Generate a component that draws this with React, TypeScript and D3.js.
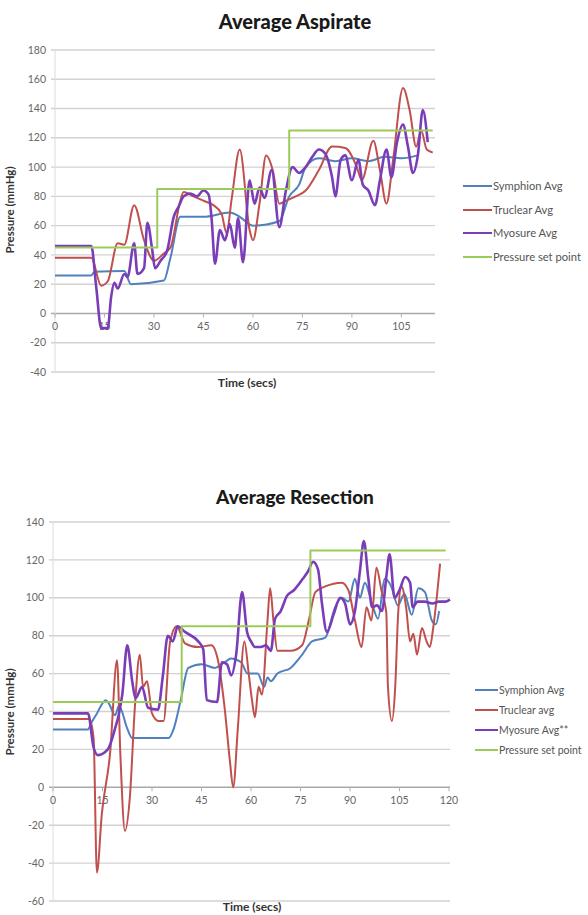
import React from "react";
import * as d3 from "d3";

type P = [number, number];

// ---------- Chart 1: Average Aspirate ----------
const aspTitle = "Average Aspirate";
const aspYTicks = [-40, -20, 0, 20, 40, 60, 80, 100, 120, 140, 160, 180];
const aspXTicks = [0, 15, 30, 45, 60, 75, 90, 105];
const aspLegend = ["Symphion Avg", "Truclear Avg", "Myosure Avg", "Pressure set point"];

const aspSymphion: P[] = [
  [0, 26], [11, 26], [12, 28.5], [21, 29], [23, 20], [33, 22.5], [35, 38], [38, 66], [45, 66],
  [53, 69], [56, 66], [60, 60], [68, 63], [71, 80], [74, 88], [76, 100], [80, 106], [85, 104],
  [90, 106], [95, 104], [100, 107], [105, 106], [110, 108],
];
const aspTruclear: P[] = [
  [0, 38], [11, 38], [14, 19], [16, 22], [19, 48], [21, 47], [24, 74], [27, 50], [30, 36], [33, 41],
  [35, 45], [38, 77], [39, 83], [42, 80], [45, 77], [48, 74], [50.5, 68], [52, 55], [53.6, 79],
  [56, 112], [59, 57], [60, 50], [62, 75], [64, 108], [66, 98], [68, 75], [70, 77], [73, 80],
  [76, 84], [80, 98], [84, 114], [88, 113], [91.5, 100], [93, 91], [96.5, 118], [98.5, 98],
  [100.5, 75], [102.5, 105], [105.5, 154], [107.5, 139], [109.5, 114], [111, 125], [112.7, 112],
  [114.5, 110],
];
const aspMyosure: P[] = [
  [0, 46], [11, 46], [12.5, 18], [14, -10], [16, -10], [17, 11], [18, 21], [19, 17], [21, 27],
  [22, 25], [24, 48], [25, 27], [27, 31], [28, 62], [29.5, 43], [30.3, 31], [32, 36], [34, 43],
  [36, 66], [37.5, 73], [39, 80], [41, 82], [43, 80], [45, 84], [46.6, 81], [47.5, 64], [48.5, 34],
  [50, 57], [51.5, 50], [53, 61], [54.5, 45], [55.5, 65], [57, 35], [59, 91], [60.5, 75], [62, 86],
  [63.5, 79], [65.7, 98], [68, 59], [70, 84], [72, 100], [74, 96], [76, 100], [78, 107], [80, 112],
  [82, 109], [84, 93], [85, 80], [86.6, 105], [88, 108], [90, 91], [92, 105], [93.3, 88], [95, 84],
  [97, 74], [98.5, 91], [100.5, 112], [102, 93], [103.6, 116], [105.5, 129], [107, 114],
  [108.5, 96], [110, 108], [111.5, 139], [113, 117],
];
const aspSetPoint: P[] = [
  [0, 45], [31, 45], [31, 85], [71, 85], [71, 125], [114.5, 125],
];

// ---------- Chart 2: Average Resection ----------
const resTitle = "Average Resection";
const resYTicks = [-60, -40, -20, 0, 20, 40, 60, 80, 100, 120, 140];
const resXTicks = [0, 15, 30, 45, 60, 75, 90, 105, 120];
const resLegend = ["Symphion Avg", "Truclear avg", "Myosure Avg**", "Pressure set point"];

const resSymphion: P[] = [
  [0, 30.5], [10.6, 30.5], [11.6, 34], [13, 38], [16, 46], [17, 44], [18.8, 38], [20, 43],
  [22.5, 31], [24, 26], [35, 26], [36.6, 31], [38.7, 46], [41, 63], [45, 65], [49, 63], [52, 66],
  [54, 68], [57, 66], [59, 60], [62, 60], [64, 53], [65, 58], [66, 56], [68, 60], [72, 63],
  [75.5, 70], [78.5, 77], [82.5, 79], [85.5, 95], [87.5, 100], [89.5, 98], [91.5, 110], [93, 100],
  [94.5, 108], [96.5, 98], [98.5, 89], [100.5, 110], [102.5, 106], [104.5, 96], [106.5, 102],
  [108.7, 91], [110.7, 105], [112.7, 103], [114.8, 88], [116, 86], [117, 93],
];
const resTruclear: P[] = [
  [0, 36], [11, 36], [12.3, 26], [13.3, -45], [14.8, -14], [17.3, 18], [19.4, 67], [20.4, 18],
  [21.8, -23], [23.3, -5], [24.8, 42], [26.3, 70], [27.3, 53], [28.5, 56], [30, 39], [32, 35],
  [33.5, 35], [35.5, 77], [37.5, 85], [40, 76], [44, 74], [48, 75], [50, 67], [52, 42], [53.6, 14],
  [54.6, 0], [56, 31], [58, 77], [59.3, 60], [60.3, 46], [61.2, 37], [62.3, 53], [63.3, 49],
  [65, 88], [65.8, 105], [66.8, 88], [68, 72], [72, 72], [75.5, 75], [77.5, 88], [79.5, 103],
  [82.5, 106], [87.5, 108], [89.5, 104], [91.5, 88], [93.5, 74], [95, 95], [96.5, 88], [98, 116],
  [99.5, 104], [101, 92], [101.5, 53], [102.7, 35], [103.7, 53], [104.6, 92], [105.6, 106],
  [107, 95], [108.2, 77], [109.2, 81], [110.3, 70], [111.8, 84], [113.2, 77], [114.2, 74],
  [115.2, 84], [116.4, 102], [117.3, 118],
];
const resMyosure: P[] = [
  [0, 39], [10.6, 39], [12.3, 21], [13.6, 17], [16.6, 20], [18.8, 31], [20, 39], [21, 49],
  [22.5, 75], [24, 56], [25, 47], [27, 53], [28.8, 42], [31.8, 41], [33.3, 59], [34.8, 80],
  [36.3, 77], [37.8, 85], [40, 82], [44, 77], [45.5, 73], [46.6, 46], [49.7, 45], [51.2, 66],
  [52.7, 65], [54, 59], [55.5, 70], [57.3, 103], [58.8, 82], [60, 77], [61.2, 74], [63, 74],
  [64.5, 75], [66, 72], [67.3, 89], [69, 93], [70.9, 101], [73, 104], [75.7, 110], [77.3, 114],
  [78.8, 119], [80.3, 115], [81.5, 97], [83, 82], [85, 91], [87, 100], [88.5, 97], [90, 86],
  [91.5, 93], [93, 114], [94.2, 130], [95.5, 111], [96.7, 95], [98.2, 96], [99.7, 93], [101, 111],
  [102, 123], [103.5, 100], [105, 104], [106.7, 111], [108.2, 108], [109, 95], [110.5, 98],
  [112.5, 98], [115, 97], [117, 98], [119, 98], [120.3, 99],
];
const resSetPoint: P[] = [
  [0, 45], [39, 45], [39, 85], [78, 85], [78, 125], [119, 125],
];

const colors = ["#4F81BD", "#C0504D", "#7A3DB8", "#9BCB59"];
const widths = [2, 2, 2.6, 2];

type ChartProps = {
  title: string;
  titleY: number;
  titleX: number;
  titleSize: number;
  xDomain: [number, number];
  xRange: [number, number];
  yDomain: [number, number];
  yRange: [number, number];
  yTicks: number[];
  xTicks: number[];
  series: P[][];
  legend: string[];
  legendX: number;
  legendY: number[];
  legendLine: number;
  legendFont: number;
  yTitleX: number;
  yTitleY: number;
  xTitleX: number;
  xTitleY: number;
};

function Chart(p: ChartProps) {
  const x = d3.scaleLinear().domain(p.xDomain).range(p.xRange);
  const y = d3.scaleLinear().domain(p.yDomain).range(p.yRange);
  const smooth = d3
    .line<P>()
    .x((d) => x(d[0]))
    .y((d) => y(d[1]))
    .curve(d3.curveMonotoneX);
  const straight = d3
    .line<P>()
    .x((d) => x(d[0]))
    .y((d) => y(d[1]));
  const font = "Lato, 'Open Sans', sans-serif";
  const [x0, x1] = p.xRange;
  return (
    <g>
      <text
        x={p.titleX}
        y={p.titleY}
        textAnchor="middle"
        fontFamily={font}
        fontWeight="900"
        fontSize={p.titleSize}
        fill="#1a1a1a"
      >
        {p.title}
      </text>
      {p.yTicks.map((t) => (
        <g key={t}>
          <line x1={x0 - 4} x2={x1} y1={y(t)} y2={y(t)} stroke={t === 0 ? "#a8a8a8" : "#d2d2d2"} strokeWidth={1.4} />
          <text x={x0 - 9} y={y(t)} dy="0.35em" textAnchor="end" fontFamily={font} fontSize={10.5} fill="#666">
            {t}
          </text>
        </g>
      ))}
      <line x1={x0} x2={x0} y1={y(p.yDomain[1])} y2={y(p.yDomain[0])} stroke="#dcdcdc" strokeWidth={1} />
      {p.xTicks.map((t) => (
        <g key={t}>
          <line x1={x(t)} x2={x(t)} y1={y(0)} y2={y(0) + 4} stroke="#b0b0b0" strokeWidth={1} />
          <text x={x(t)} y={y(0) + 17} textAnchor="middle" fontFamily={font} fontSize={10.5} fill="#666">
            {t}
          </text>
        </g>
      ))}
      {p.series.map((s, i) => (
        <path
          key={i}
          d={(i === 3 ? straight(s) : smooth(s)) || ""}
          fill="none"
          stroke={colors[i]}
          strokeWidth={widths[i]}
          strokeLinejoin="round"
        />
      ))}
      <text
        transform={`translate(${p.yTitleX},${p.yTitleY}) rotate(-90)`}
        textAnchor="middle"
        fontFamily={font}
        fontWeight="bold"
        fontSize={11.5}
        fill="#333"
      >
        Pressure (mmHg)
      </text>
      <text x={p.xTitleX} y={p.xTitleY} textAnchor="middle" fontFamily={font} fontWeight="bold" fontSize={12} fill="#333">
        Time (secs)
      </text>
      {p.legend.map((l, i) => (
        <g key={l}>
          <line
            x1={p.legendX}
            x2={p.legendX + p.legendLine}
            y1={p.legendY[i]}
            y2={p.legendY[i]}
            stroke={colors[i]}
            strokeWidth={2}
          />
          <text
            x={p.legendX + p.legendLine + 1}
            y={p.legendY[i]}
            dy="0.35em"
            fontFamily={font}
            fontSize={p.legendFont}
            fill="#555"
          >
            {l}
          </text>
        </g>
      ))}
    </g>
  );
}

export default function App() {
  return (
    <svg
      width={588}
      height={915}
      style={{ position: "absolute", left: 0, top: 0, background: "#fff" }}
    >
      <rect width={588} height={915} fill="#fff" />
      <Chart
        title={aspTitle}
        titleX={295}
        titleY={29}
        titleSize={20}
        xDomain={[0, 115.2]}
        xRange={[55, 435]}
        yDomain={[-40, 180]}
        yRange={[372, 50]}
        yTicks={aspYTicks}
        xTicks={aspXTicks}
        series={[aspSymphion, aspTruclear, aspMyosure, aspSetPoint]}
        legend={aspLegend}
        legendX={463}
        legendY={[186, 210, 233, 257]}
        legendLine={29}
        legendFont={11.2}
        yTitleX={14}
        yTitleY={210}
        xTitleX={247}
        xTitleY={387}
      />
      <Chart
        title={resTitle}
        titleX={295}
        titleY={504}
        titleSize={19}
        xDomain={[0, 120.3]}
        xRange={[53, 450]}
        yDomain={[-60, 140]}
        yRange={[901, 522]}
        yTicks={resYTicks}
        xTicks={resXTicks}
        series={[resSymphion, resTruclear, resMyosure, resSetPoint]}
        legend={resLegend}
        legendX={475}
        legendY={[690, 710, 730, 750]}
        legendLine={23}
        legendFont={10.5}
        yTitleX={14}
        yTitleY={712}
        xTitleX={252}
        xTitleY={911}
      />
    </svg>
  );
}
